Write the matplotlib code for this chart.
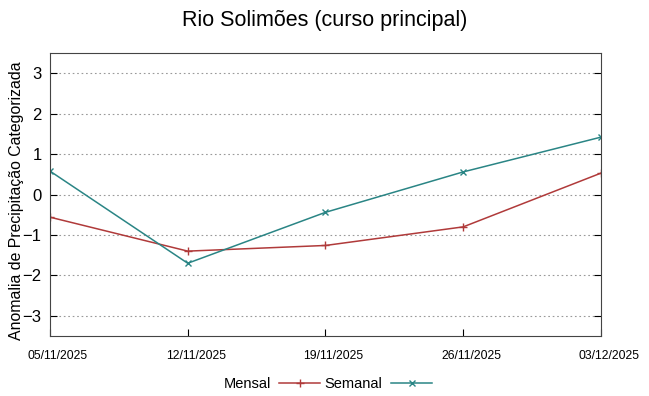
import matplotlib
matplotlib.use('Agg')
import matplotlib.pyplot as plt
import matplotlib.transforms as mtransforms
import numpy as np

plt.rcParams['font.family'] = ['Liberation Sans', 'DejaVu Sans']

datas = ['05/11/2025', '12/11/2025', '19/11/2025', '26/11/2025', '03/12/2025']
mensal = [-0.56, -1.40, -1.26, -0.80, 0.53]
semanal = [0.58, -1.70, -0.44, 0.56, 1.42]

x = np.arange(len(datas))

fig = plt.figure(figsize=(6.49, 3.96), dpi=100)
ax = fig.add_axes([0.077, 0.1515, 0.849, 0.7145])

ax.plot(x, mensal, color='#b03a3a', lw=1.1, marker='+', ms=6, mew=1.0, label='Mensal')
ax.plot(x, semanal, color='#2a8585', lw=1.1, marker='x', ms=5, mew=1.0, label='Semanal')

ax.set_xlim(0, 4)
ax.set_ylim(-3.5, 3.5)
ax.set_yticks([-3, -2, -1, 0, 1, 2, 3])
ax.set_xticks(x)
ax.set_xticklabels([])
# rótulos das datas levemente deslocados para a direita (como no gnuplot)
desloc = mtransforms.ScaledTranslation(8 / 100, -14 / 100, fig.dpi_scale_trans)
for xi, d in zip(x, datas):
    ax.text(xi, 0, d, transform=ax.get_xaxis_transform() + desloc,
            ha='center', va='top', fontsize=8.8)
ax.tick_params(axis='y', labelsize=12, direction='in', right=True, length=5, pad=6)
ax.tick_params(axis='x', direction='in', length=5)
ax.yaxis.grid(True, linestyle=(0, (1.5, 2.5)), color='#999999', lw=0.8)
for s in ax.spines.values():
    s.set_color('#444444')

ax.set_ylabel('Anomalia de Precipitação Categorizada', fontsize=11.4)
ax.yaxis.set_label_coords(-0.047, 0.477)
fig.suptitle('Rio Solimões (curso principal)', fontsize=15.5, y=0.975)

fig.legend(loc='lower center', bbox_to_anchor=(0.505, -0.02), ncol=2, frameon=False,
           markerfirst=False, fontsize=10.5, handlelength=2.8, columnspacing=0.3, handletextpad=0.6)

fig.savefig('out.png', dpi=100)
